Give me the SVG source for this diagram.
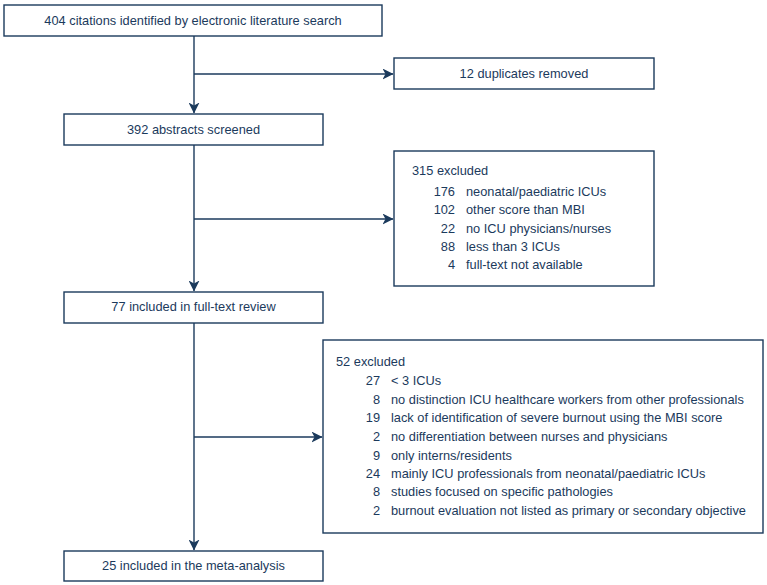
<svg xmlns="http://www.w3.org/2000/svg" width="767" height="585" viewBox="0 0 767 585">
<style>
.box{fill:#fff;stroke:#1b3a5c;stroke-width:1.4}
.ln{fill:none;stroke:#1b3a5c;stroke-width:1.4}
text{font-family:"Liberation Sans",Arial,Helvetica,sans-serif;font-size:12.8px;fill:#1b3a5c}
.c{text-anchor:middle}
.r{text-anchor:end}
</style>
<defs>
<marker id="ah" viewBox="0 0 11 11" refX="10.5" refY="5.5" markerWidth="11" markerHeight="11" markerUnits="userSpaceOnUse" orient="auto">
<path d="M0,0 L11,5.5 L0,11 L3,5.5 z" fill="#1b3a5c"/>
</marker>
</defs>
<rect width="767" height="585" fill="#fff"/>
<g id="connectors">
<path class="ln" d="M194,36 V113" marker-end="url(#ah)"/>
<path class="ln" d="M194,74 H393" marker-end="url(#ah)"/>
<path class="ln" d="M194,145 V291" marker-end="url(#ah)"/>
<path class="ln" d="M194,219 H393" marker-end="url(#ah)"/>
<path class="ln" d="M194,323 V550" marker-end="url(#ah)"/>
<path class="ln" d="M194,437 H322" marker-end="url(#ah)"/>
</g>
<g id="n1">
<rect class="box" x="4" y="5" width="378" height="31"/>
<text class="c" x="193" y="25">404 citations identified by electronic literature search</text>
</g>
<g id="n2">
<rect class="box" x="394" y="58" width="260" height="31"/>
<text class="c" x="524" y="78">12 duplicates removed</text>
</g>
<g id="n3">
<rect class="box" x="64" y="114" width="259" height="31"/>
<text class="c" x="193.5" y="134">392 abstracts screened</text>
</g>
<g id="n4">
<rect class="box" x="394" y="151" width="260" height="135"/>
<text x="412" y="175">315 excluded</text>
<text class="r" x="455" y="196">176</text><text x="466" y="196">neonatal/paediatric ICUs</text>
<text class="r" x="455" y="214">102</text><text x="466" y="214">other score than MBI</text>
<text class="r" x="455" y="232.5">22</text><text x="466" y="232.5">no ICU physicians/nurses</text>
<text class="r" x="455" y="250.5">88</text><text x="466" y="250.5">less than 3 ICUs</text>
<text class="r" x="455" y="269">4</text><text x="466" y="269">full-text not available</text>
</g>
<g id="n5">
<rect class="box" x="64" y="292" width="259" height="31"/>
<text class="c" x="193.5" y="311">77 included in full-text review</text>
</g>
<g id="n6">
<rect class="box" x="323" y="340" width="440" height="193"/>
<text x="336" y="366">52 excluded</text>
<text class="r" x="380" y="385">27</text><text x="391" y="385">&lt; 3 ICUs</text>
<text class="r" x="380" y="403.5">8</text><text x="391" y="403.5">no distinction ICU healthcare workers from other professionals</text>
<text class="r" x="380" y="422">19</text><text x="391" y="422">lack of identification of severe burnout using the MBI score</text>
<text class="r" x="380" y="441">2</text><text x="391" y="441">no differentiation between nurses and physicians</text>
<text class="r" x="380" y="459.5">9</text><text x="391" y="459.5">only interns/residents</text>
<text class="r" x="380" y="478">24</text><text x="391" y="478">mainly ICU professionals from neonatal/paediatric ICUs</text>
<text class="r" x="380" y="496">8</text><text x="391" y="496">studies focused on specific pathologies</text>
<text class="r" x="380" y="515">2</text><text x="391" y="515">burnout evaluation not listed as primary or secondary objective</text>
</g>
<g id="n7">
<rect class="box" x="64" y="551" width="259" height="30"/>
<text class="c" x="193.5" y="570">25 included in the meta-analysis</text>
</g>
</svg>
